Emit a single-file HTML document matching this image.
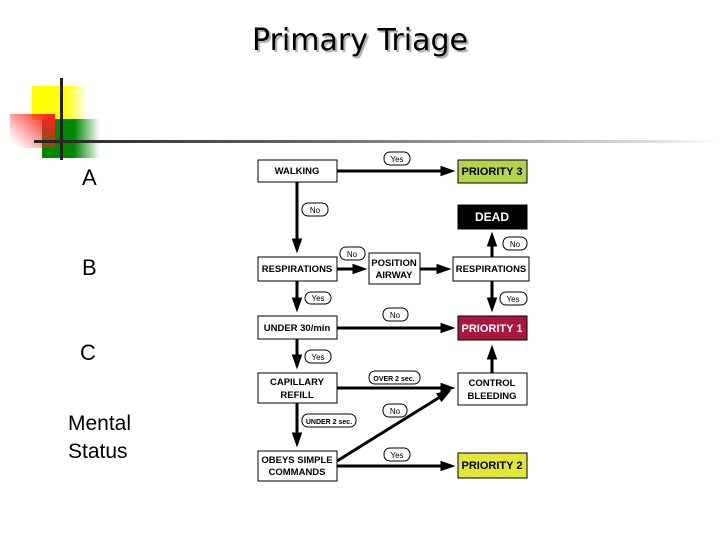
<!DOCTYPE html>
<html><head><style>
body{margin:0;width:720px;height:540px;background:#fff;position:relative;overflow:hidden;font-family:"Liberation Sans",sans-serif}
.t{position:absolute;left:0;width:720px;text-align:center;top:23px;font-family:"DejaVu Sans",sans-serif;font-size:30px;color:#000;text-shadow:2px 2px 1px #aaa}
.l{position:absolute;font-size:22px;color:#000}
</style></head><body>
<div class="t">Primary Triage</div>
<div style="position:absolute;left:32px;top:86px;width:55px;height:34px;background:linear-gradient(90deg,#ff0 0,#ff0 60%,rgba(255,255,0,0))"></div>
<div style="position:absolute;left:42px;top:119px;width:58px;height:39px;background:linear-gradient(90deg,#080 0,#080 55%,rgba(0,136,0,0))"></div>
<div style="position:absolute;left:10px;top:114px;width:45px;height:34px;background:linear-gradient(45deg,rgba(255,255,255,0) 10%,#f22 90%)"></div>
<div style="position:absolute;left:60px;top:78px;width:3px;height:82px;background:#222"></div>
<div style="position:absolute;left:34px;top:140px;width:686px;height:3px;background:linear-gradient(90deg,#222,#666 40%,#ddd 90%,#fff)"></div>
<div class="l" style="left:82px;top:165px">A</div>
<div class="l" style="left:82px;top:255px">B</div>
<div class="l" style="left:80px;top:340px">C</div>
<div class="l" style="left:68px;top:410px;line-height:28px;font-size:21px">Mental<br>Status</div>
<svg width="720" height="540" style="position:absolute;left:0;top:0" font-family="Liberation Sans,sans-serif" font-weight="bold">
<defs><marker id="a" markerWidth="5" markerHeight="3.5" refX="0.5" refY="1.75" orient="auto" markerUnits="strokeWidth"><path d="M0,0 L5,1.75 L0,3.5z" fill="#000"/></marker></defs>
<g stroke="#000" stroke-width="3" fill="none" marker-end="url(#a)">
<line x1="337" y1="171" x2="442" y2="171"/>
<line x1="297" y1="182" x2="297" y2="240"/>
<line x1="337" y1="269" x2="354" y2="269"/>
<line x1="420" y1="269" x2="438" y2="269"/>
<line x1="492" y1="257" x2="492" y2="245"/>
<line x1="492" y1="281" x2="492" y2="299"/>
<line x1="297" y1="281" x2="297" y2="299"/>
<line x1="337" y1="328" x2="442" y2="328"/>
<line x1="297" y1="339" x2="297" y2="356"/>
<line x1="337" y1="388" x2="442" y2="388"/>
<line x1="492" y1="373" x2="492" y2="358"/>
<line x1="297" y1="403" x2="297" y2="434"/>
<line x1="337" y1="461" x2="440" y2="397"/>
<line x1="337" y1="466" x2="442" y2="466"/>
</g>
<g stroke="#000" stroke-width="1" font-size="9.5" text-anchor="middle">
<rect x="258" y="160" width="79" height="22" fill="#fff"/><text x="297" y="174" stroke="none">WALKING</text>
<rect x="458" y="160" width="69" height="23" fill="#b5d44a"/><text x="492" y="175" stroke="none" font-size="11">PRIORITY 3</text>
<rect x="458" y="205" width="69" height="24" fill="#000"/><text x="492" y="221" stroke="none" fill="#fff" font-size="12">DEAD</text>
<rect x="258" y="257" width="79" height="24" fill="#fff"/><text x="297" y="272" stroke="none">RESPIRATIONS</text>
<rect x="369" y="253" width="51" height="31" fill="#fff"/><text x="394" y="266" stroke="none">POSITION</text><text x="394" y="278" stroke="none">AIRWAY</text>
<rect x="453" y="257" width="76" height="24" fill="#fff"/><text x="491" y="272" stroke="none">RESPIRATIONS</text>
<rect x="258" y="316" width="79" height="23" fill="#fff"/><text x="297" y="331" stroke="none">UNDER 30/min</text>
<rect x="458" y="316" width="69" height="24" fill="#a8173d"/><text x="492" y="332" stroke="none" fill="#fff" font-size="11">PRIORITY 1</text>
<rect x="258" y="373" width="79" height="30" fill="#fff"/><text x="297" y="385" stroke="none">CAPILLARY</text><text x="297" y="398" stroke="none">REFILL</text>
<rect x="458" y="373" width="69" height="32" fill="#fff"/><text x="492" y="386" stroke="none">CONTROL</text><text x="492" y="399" stroke="none">BLEEDING</text>
<rect x="258" y="451" width="79" height="30" fill="#fff"/><text x="297" y="463" stroke="none">OBEYS SIMPLE</text><text x="297" y="475" stroke="none">COMMANDS</text>
<rect x="458" y="453" width="69" height="25" fill="#e2e53a"/><text x="492" y="469" stroke="none" font-size="11">PRIORITY 2</text>
</g>
<g stroke="#000" stroke-width="1" fill="#fff" font-size="8" font-weight="normal" text-anchor="middle">
<rect x="384" y="152" width="26" height="13" rx="6"/><text x="397" y="162" stroke="none" fill="#000">Yes</text>
<rect x="302" y="203" width="26" height="13" rx="6"/><text x="315" y="213" stroke="none" fill="#000">No</text>
<rect x="340" y="247" width="25" height="13" rx="6"/><text x="352" y="257" stroke="none" fill="#000">No</text>
<rect x="503" y="237" width="24" height="13" rx="6"/><text x="515" y="247" stroke="none" fill="#000">No</text>
<rect x="305" y="292" width="26" height="12" rx="6"/><text x="318" y="301" stroke="none" fill="#000">Yes</text>
<rect x="500" y="292" width="27" height="13" rx="6"/><text x="513" y="302" stroke="none" fill="#000">Yes</text>
<rect x="383" y="308" width="25" height="13" rx="6"/><text x="395" y="318" stroke="none" fill="#000">No</text>
<rect x="305" y="350" width="26" height="13" rx="6"/><text x="318" y="360" stroke="none" fill="#000">Yes</text>
<rect x="369" y="371" width="51" height="13" rx="6"/><text x="394" y="381" stroke="none" fill="#000" font-size="7" font-weight="bold">OVER 2 sec.</text>
<rect x="383" y="404" width="24" height="13" rx="6"/><text x="395" y="414" stroke="none" fill="#000">No</text>
<rect x="302" y="414" width="54" height="13" rx="6"/><text x="329" y="424" stroke="none" fill="#000" font-size="7" font-weight="bold">UNDER 2 sec.</text>
<rect x="384" y="448" width="26" height="13" rx="6"/><text x="397" y="458" stroke="none" fill="#000">Yes</text>
</g>
</svg>
</body></html>
